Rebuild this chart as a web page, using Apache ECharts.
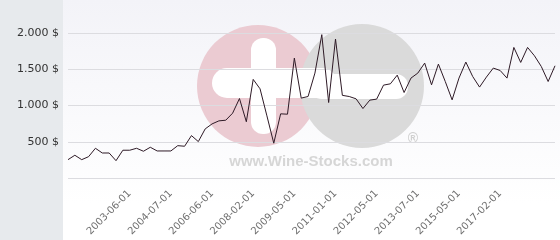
<!DOCTYPE html>
<html>
<head>
<meta charset="utf-8">
<script src="https://cdn.jsdelivr.net/npm/echarts@6/dist/echarts.min.js"></script>
<style>html,body{margin:0;padding:0;background:#fff}#c{width:560px;height:240px}</style>
</head>
<body>
<div id="c"></div>
<script>
// Tick labels shown on the category axis (every 6th point, starting at point 9)
const tickLabels = ['2003-06-01','2004-07-01','2006-06-01','2008-02-01','2009-05-01',
  '2011-01-01','2012-05-01','2013-07-01','2015-05-01','2017-02-01'];
const firstLabelIndex = 9;
const labelStep = 6;
// Price values (USD)
const prices = [253,314,253,294,410,345,345,239,383,383,410,369,424,373,373,373,446,438,585,502,
  677,746,788,797,894,1096,776,1360,1230,857,480,885,880,1654,1102,1124,1447,1977,1041,1917,
  1140,1124,1092,958,1074,1088,1281,1299,1419,1179,1378,1447,1585,1285,1571,1331,1078,1378,1599,1400,
  1254,1392,1516,1483,1378,1801,1594,1801,1686,1538,1331,1548];
const yTicks = [0,500,1000,1500,2000];

const categories = prices.map((v,i)=>{
  const k = i - firstLabelIndex;
  return (k >= 0 && k % labelStep === 0 && tickLabels[k/labelStep]) ? tickLabels[k/labelStep] : '';
});

function fmt(v){
  if (v === 0) return '';
  return v.toString().replace(/\B(?=(\d{3})+(?!\d))/g,'.') + ' $';
}

const chart = echarts.init(document.getElementById('c'), null, {renderer:'canvas'});
chart.setOption({
  animation:false,
  graphic:[
    {type:'rect', z:-30, silent:true, shape:{x:63,y:0,width:497,height:240},
     style:{fill:new echarts.graphic.LinearGradient(0,0,0,1,[{offset:0,color:'#f3f3f8'},{offset:0.85,color:'#ffffff'},{offset:1,color:'#ffffff'}])}},
    {type:'rect', z:-30, silent:true, shape:{x:0,y:0,width:63,height:240}, style:{fill:'#e7eaed'}},
    // watermark
    {type:'circle', z:-20, silent:true, shape:{cx:258,cy:86,r:61}, style:{fill:'#ebcbd2'}},
    {type:'circle', z:-19, silent:true, shape:{cx:362,cy:86,r:62}, style:{fill:'#dadada'}},
    {type:'rect', z:-18, silent:true, shape:{x:251,y:38,width:25,height:96,r:12}, style:{fill:'#ffffff'}},
    {type:'rect', z:-18, silent:true, shape:{x:212,y:68,width:125,height:30,r:15}, style:{fill:'#ffffff'}},
    {type:'rect', z:-18, silent:true, shape:{x:310,y:74,width:98,height:25,r:12}, style:{fill:'#ffffff'}},
    {type:'text', z:-18, silent:true, x:311, y:162,
     style:{text:'www.Wine-Stocks.com', font:'bold 15px "Liberation Sans", Arial, sans-serif', fill:'#d6d6d6', align:'center', verticalAlign:'middle'}},
    {type:'text', z:-18, silent:true, x:413, y:139,
     style:{text:'®', font:'bold 14px "Liberation Sans", Arial, sans-serif', fill:'#d0d0d0', align:'center', verticalAlign:'middle'}}
  ],
  grid:{left:68, right:5, top:33, bottom:62, containLabel:false},
  xAxis:{
    type:'category', data:categories, boundaryGap:false,
    axisLine:{show:false}, axisTick:{show:false},
    axisLabel:{interval:0, rotate:45, margin:14, color:'#6f6f6f',
      fontFamily:'"DejaVu Sans", sans-serif', fontSize:10}
  },
  yAxis:{
    type:'value', min:yTicks[0], max:yTicks[yTicks.length-1], interval:500,
    axisLine:{show:false}, axisTick:{show:false},
    splitLine:{lineStyle:{color:'#dcdce0', width:1}},
    axisLabel:{margin:9, color:'#333', fontFamily:'"DejaVu Sans", sans-serif', fontSize:11, formatter:fmt}
  },
  series:[{
    type:'line', data:prices, symbol:'none', z:5,
    lineStyle:{color:'#2e1a26', width:1}
  }]
});
</script>
</body>
</html>
